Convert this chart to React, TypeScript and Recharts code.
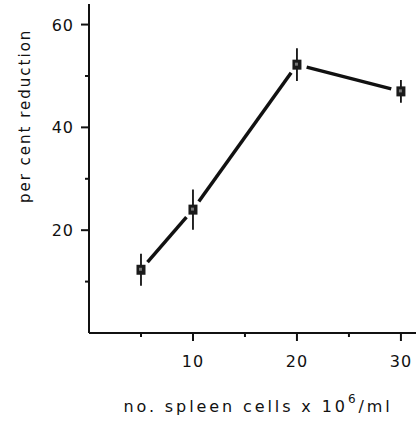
import { ComposedChart, ErrorBar, Scatter, XAxis, YAxis } from 'recharts'

const cellCounts = [5, 10, 20, 30]
const reduction = [12.3, 24, 52.2, 47]
const reductionErr = [3.1, 3.9, 3.2, 2.2]

const xTicks = [5, 10, 15, 20, 25, 30]
const yTicks = [10, 20, 30, 40, 50, 60]

const data = cellCounts.map((x, i) => ({ x, y: reduction[i], err: reductionErr[i] }))

const INK = '#111'
const FONT = '"DejaVu Sans", sans-serif'

function XTick({ x, y, payload }: any) {
  const major = payload.value % 10 === 0
  return (
    <g>
      <line x1={x} x2={x} y1={y} y2={y + (major ? 8 : 4)} stroke={INK} strokeWidth={2} />
      {major && (
        <text x={x} y={y + 34} textAnchor="middle" fontFamily={FONT} fontSize={16} letterSpacing={1} fill={INK}>
          {payload.value}
        </text>
      )}
    </g>
  )
}

function YTick({ x, y, payload }: any) {
  const major = payload.value % 20 === 0
  return (
    <g>
      <line x1={x - (major ? 8 : 4)} x2={x} y1={y} y2={y} stroke={INK} strokeWidth={2} />
      {major && (
        <text x={x - 15} y={y + 6} textAnchor="end" fontFamily={FONT} fontSize={16} letterSpacing={1} fill={INK}>
          {payload.value}
        </text>
      )}
    </g>
  )
}

function XTitle({ viewBox }: any) {
  const cx = viewBox.x + viewBox.width / 2 + 5.5
  return (
    <text x={cx} y={viewBox.y + 79} textAnchor="middle" fontFamily={FONT} fontSize={16} letterSpacing={2.9} fill={INK}>
      no. spleen cells x 10
      <tspan dy={-9} fontSize={12}>6</tspan>
      <tspan dy={9}>/ml</tspan>
    </text>
  )
}

function YTitle({ viewBox }: any) {
  const x = viewBox.x + 25
  const y = viewBox.y + viewBox.height * 0.34
  return (
    <text
      x={x}
      y={y}
      transform={`rotate(-90, ${x}, ${y})`}
      textAnchor="middle"
      dominantBaseline="central"
      fontFamily={FONT}
      fontSize={15}
      letterSpacing={2}
      fill={INK}
    >
      per cent reduction
    </text>
  )
}

// joins the points but stops each segment short of the markers, like the original
function GappedLine({ points }: any) {
  if (!points || points.length < 2) return null
  const gap = 10
  const segs = []
  for (let i = 0; i < points.length - 1; i++) {
    const p = points[i]
    const q = points[i + 1]
    const dx = q.x - p.x
    const dy = q.y - p.y
    const len = Math.hypot(dx, dy)
    const ux = dx / len
    const uy = dy / len
    segs.push(
      <line
        key={i}
        x1={p.x + ux * gap}
        y1={p.y + uy * gap}
        x2={q.x - ux * gap}
        y2={q.y - uy * gap}
        stroke={INK}
        strokeWidth={3.5}
      />,
    )
  }
  return <g>{segs}</g>
}

function SquareMark({ cx, cy }: any) {
  if (cx == null || cy == null) return null
  return (
    <g>
      <rect x={cx - 4.5} y={cy - 5} width={9} height={10} fill="#1a1a1a" />
      <rect x={cx - 2} y={cy - 2} width={3} height={3} fill="#777" />
    </g>
  )
}

export default function App() {
  return (
    <div style={{ position: 'absolute', left: 0, top: 0, background: '#fff' }}>
      <ComposedChart width={416} height={421} data={data} margin={{ top: 4, right: 0, bottom: 0, left: 0 }}>
        <XAxis
          type="number"
          dataKey="x"
          domain={[0, 31.45]}
          ticks={xTicks}
          tick={<XTick />}
          tickLine={false}
          tickSize={0}
          tickMargin={0}
          axisLine={{ stroke: INK, strokeWidth: 2 }}
          allowDataOverflow
          height={88}
          label={{ content: <XTitle /> }}
        />
        <YAxis
          type="number"
          domain={[0, 64]}
          ticks={yTicks}
          tick={<YTick />}
          tickLine={false}
          tickSize={0}
          tickMargin={0}
          axisLine={{ stroke: INK, strokeWidth: 2 }}
          width={89}
          label={{ content: <YTitle /> }}
        />
        <Scatter dataKey="y" line={<GappedLine />} shape={<SquareMark />} isAnimationActive={false}>
          <ErrorBar dataKey="err" direction="y" width={0} stroke={INK} strokeWidth={1.8} />
        </Scatter>
      </ComposedChart>
    </div>
  )
}
